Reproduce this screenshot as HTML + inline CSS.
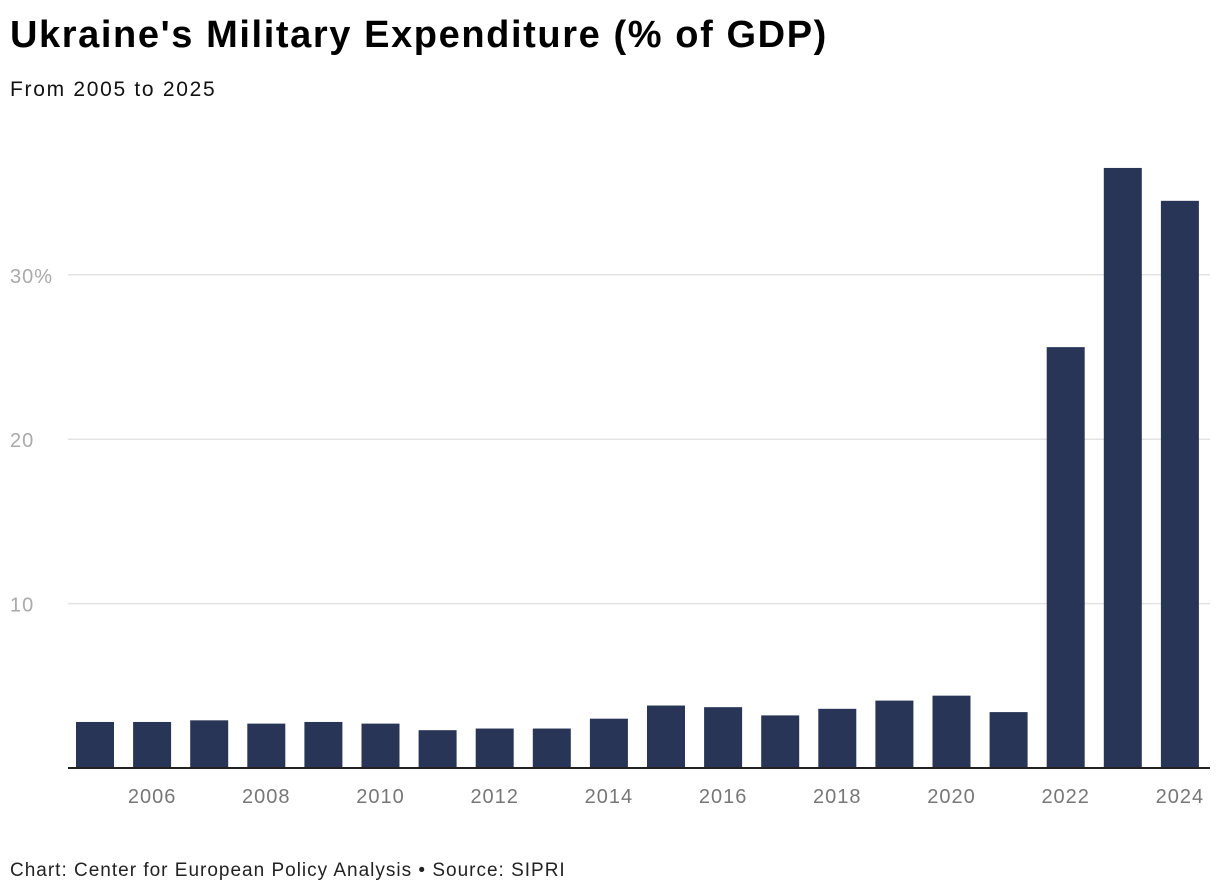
<!DOCTYPE html>
<html><head><meta charset="utf-8">
<style>
body{margin:0;background:#fff;font-family:"Liberation Sans",sans-serif;}
#wrap{position:relative;width:1220px;height:894px;overflow:hidden;}
h1{position:absolute;left:10px;top:14px;margin:0;font-size:38px;font-weight:bold;color:#000;letter-spacing:1.6px;}
.sub{position:absolute;left:10px;top:78px;font-size:21px;color:#111;letter-spacing:1.7px;}
.foot{position:absolute;left:10px;top:860px;font-size:19px;color:#222;letter-spacing:1px;}
svg{position:absolute;left:0;top:0;}
</style></head><body>
<div id="wrap">
<h1>Ukraine's Military Expenditure (% of GDP)</h1>
<div class="sub">From 2005 to 2025</div>
<svg id="chart" width="1220" height="894"></svg>
<div class="foot">Chart: Center for European Policy Analysis • Source: SIPRI</div>
</div>
<script>
const years=[2005,2006,2007,2008,2009,2010,2011,2012,2013,2014,2015,2016,2017,2018,2019,2020,2021,2022,2023,2024];
const values=[2.8,2.8,2.9,2.7,2.8,2.7,2.3,2.4,2.4,3.0,3.8,3.7,3.2,3.6,4.1,4.4,3.4,25.6,36.5,34.5];
const yTicks=[10,20,30];
const yTickLabels=["10","20","30%"];
const xTickYears=[2006,2008,2010,2012,2014,2016,2018,2020,2022,2024];
const svg=document.getElementById('chart');
const NS='http://www.w3.org/2000/svg';
const y0=768,pxPer=16.44,x0=95,step=57.1,bw=38,left=68,right=1210;
const ys=v=>y0-v*pxPer;
const xs=yr=>x0+(yr-years[0])*step;
function mk(t,a){const e=document.createElementNS(NS,t);for(const k in a)e.setAttribute(k,a[k]);svg.appendChild(e);return e;}
yTicks.forEach((v,i)=>{
 const l=mk('line',{x1:left,x2:right,y1:ys(v),y2:ys(v),stroke:'#e3e3e3','stroke-width':1.5});
 
 
 const t=mk('text',{x:10,y:ys(v)+8,'font-size':20,fill:'#aaa','letter-spacing':'1','font-family':'Liberation Sans, sans-serif'});
 t.textContent=yTickLabels[i];
 
 
});
years.forEach((yr,i)=>{
 const r=mk('rect',{x:xs(yr)-bw/2,y:ys(values[i]),width:bw,height:values[i]*pxPer,fill:'#283556'});
 
 
});
const ax=mk('line',{x1:left,x2:right,y1:y0,y2:y0,stroke:'#222','stroke-width':2});


xTickYears.forEach(yr=>{
 const t=mk('text',{x:xs(yr),y:803,'font-size':20,fill:'#777','text-anchor':'middle','letter-spacing':'1','font-family':'Liberation Sans, sans-serif'});
 t.textContent=yr;
 
 
});
</script>
</body></html>
